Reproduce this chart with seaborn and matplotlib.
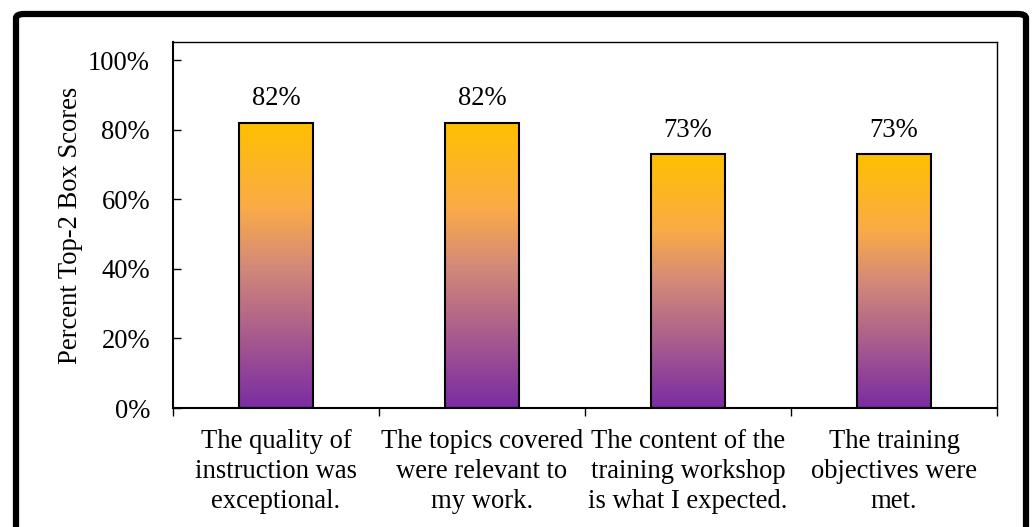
import numpy as np
import pandas as pd
import seaborn as sns
import matplotlib.pyplot as plt
from matplotlib.colors import LinearSegmentedColormap
from matplotlib.patches import FancyBboxPatch

categories = ["The quality of\ninstruction was\nexceptional.",
              "The topics covered\nwere relevant to\nmy work.",
              "The content of the\ntraining workshop\nis what I expected.",
              "The training\nobjectives were\nmet."]
scores = [0.82, 0.82, 0.73, 0.73]
value_labels = ["82%", "82%", "73%", "73%"]

df = pd.DataFrame({"item": categories, "score": scores})

sns.set_style("white")
plt.rcParams['font.family'] = ['Liberation Serif', 'DejaVu Serif']
plt.rcParams['text.color'] = 'black'
plt.rcParams['axes.labelcolor'] = 'black'
plt.rcParams['xtick.color'] = 'black'
plt.rcParams['ytick.color'] = 'black'

fig = plt.figure(figsize=(10.32, 5.27), dpi=100)
ax = fig.add_axes([0.1676, 0.2258, 0.7985, 0.6945])

sns.barplot(data=df, x="item", y="score", ax=ax, width=0.355,
            color="white", edgecolor="black", linewidth=1.5)

# gradient fill: purple at the bottom, gold at the top
grad = LinearSegmentedColormap.from_list(
    "grad", [(0.0, "#7B2CA3"), (0.5, "#D48A78"), (0.7, "#FBAB47"), (1.0, "#FFC000")])
for i, p in enumerate(ax.patches):
    p.set_facecolor("none")
    p.set_zorder(3)
    x0, y0 = p.get_x(), p.get_y()
    w, h = p.get_width(), p.get_height()
    ax.imshow(np.linspace(0, 1, 256).reshape(-1, 1), cmap=grad, origin="lower",
              extent=[x0, x0 + w, y0, y0 + h], aspect="auto", zorder=2)
    ax.text(x0 + w / 2, y0 + h + 0.033, value_labels[i],
            ha="center", va="bottom", fontsize=19.2, color="black")
ax.set_xlim(-0.5, 3.5)
ax.set_ylim(0, 1.052)

ax.set_yticks([0, 0.2, 0.4, 0.6, 0.8, 1.0])
ax.set_yticklabels(["0%", "20%", "40%", "60%", "80%", "100%"], fontsize=19.2)
ax.yaxis.set_tick_params(which="major", direction="in", length=6, width=1.0,
                         left=True, pad=16.5)
ax.set_xticks([0, 1, 2, 3])
ax.set_xticklabels(categories, fontsize=19.2, linespacing=1.28)
ax.set_xticks([-0.5, 0.5, 1.5, 2.5, 3.5], minor=True)
ax.tick_params(axis="x", which="major", length=0, pad=15)
ax.tick_params(axis="x", which="minor", direction="out", length=6, width=1.0, bottom=True)
ax.set_xlabel("")
ax.set_ylabel("Percent Top-2 Box Scores", fontsize=19.2, labelpad=4)

for s in ax.spines.values():
    s.set_color("black")
    s.set_linewidth(1.0)
ax.spines["bottom"].set_linewidth(1.5)
ax.spines["left"].set_linewidth(1.5)

border = FancyBboxPatch((16 / 1032, -0.05), 1010 / 1032, 1.05 - 14 / 527,
                        boxstyle="round,pad=0,rounding_size=0.008",
                        transform=fig.transFigure, fill=False,
                        edgecolor="black", linewidth=4.5, clip_on=False)
fig.patches.append(border)

fig.savefig("out.png", dpi=100)
